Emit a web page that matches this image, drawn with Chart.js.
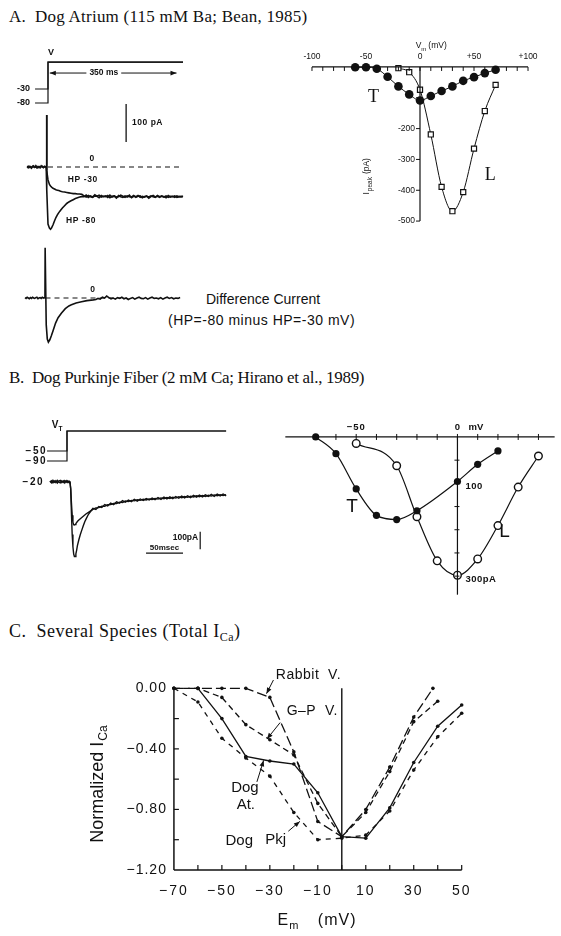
<!DOCTYPE html>
<html lang="en">
<head>
<meta charset="UTF-8">
<title>Ca currents - T and L types</title>
<script src="https://cdn.jsdelivr.net/npm/chart.js"></script>
<style>
  body { margin: 0; background: #fff; }
  #page { position: relative; width: 561px; height: 936px; overflow: hidden; background: #fff; }
  #page canvas { position: absolute; }
  .head { position: absolute; left: 9px; font-family: "Liberation Serif", "Times New Roman", serif; font-size: 17px; line-height: 20px; white-space: pre; color: #111; }
  .head sub { font-size: 12px; vertical-align: -4px; line-height: 0; }
  .note { position: absolute; font-family: "Liberation Sans", Arial, sans-serif; font-size: 14px; line-height: 16px; color: #111; white-space: pre; }
</style>
</head>
<body>
<div id="page">
  <div class="head" style="top:7px;letter-spacing:.24px">A.  Dog Atrium (115 mM Ba; Bean, 1985)</div>
  <div class="head" style="top:368px;letter-spacing:-.3px">B.  Dog Purkinje Fiber (2 mM Ca; Hirano et al., 1989)</div>
  <div class="head" style="top:621px;font-size:18px;letter-spacing:.5px">C.  Several Species (Total I<sub>Ca</sub>)</div>
  <div class="note" style="left:206px;top:291px">Difference Current</div>
  <div class="note" style="left:168px;top:312px;letter-spacing:.5px">(HP=-80 minus HP=-30 mV)</div>
  <canvas id="protoA"></canvas>
  <canvas id="curA"></canvas>
  <canvas id="difA"></canvas>
  <canvas id="ivA"></canvas>
  <canvas id="protoB"></canvas>
  <canvas id="curB"></canvas>
  <canvas id="ivB"></canvas>
  <canvas id="ivC"></canvas>
</div>
<script>
// ---------- A: dog atrium, 115 mM Ba ----------
// voltage protocol (ms, mV)
const protoA_t = [-36, 0, 0, 375]
const protoA_hp30 = [-30, -30, 66, 66]
const protoA_hp80 = [-80, -80, 66, 66]

// current records (ms, pA)
const traceA_t = [-58,-55,-52,-49,-46,-43,-40,-37,-34,-31,-28,-25,-22,-19,-16,-13,-10,-7,
  -5,-4,-3,
  0,4,7,10,14,18,22,26,30,35,40,46,52,58,64,70,76,82,88,94,
  100,106,112,118,124,130,136,142,148,154,160,166,172,178,184,190,196,202,208,214,
  220,226,232,238,244,250,256,262,268,274,280,286,292,298,304,310,316,322,328,334,
  340,346,352,358,364,370,375]
const hp80 = [1,-2,2,0,-3,1,3,-1,0,2,-2,1,-1,3,0,-2,2,0,
  0,137,-60,
  -150,-161,-164,-160,-152,-142,-133,-126,-120,-114,-108,-102,-96,-92,-89,-86,-83,-81,-79,-78,
  -78,-74,-80,-76,-79,-73,-77,-81,-75,-78,-76,-80,-74,-79,-77,-82,-75,-78,-80,-76,
  -79,-74,-81,-77,-78,-75,-80,-77,-79,-76,-82,-78,-75,-79,-77,-80,-76,-78,-81,-75,
  -79,-77,-80,-76,-78,-79,-77]
const hp30 = [0,2,-1,1,-2,2,0,-1,3,-2,0,1,-2,1,2,-1,0,1,
  0,137,-10,
  -34,-46,-50,-53,-56,-58,-60,-61,-62,-64,-65,-66,-67,-68,-69,-70,-70,-71,-71,-72,
  -76,-79,-75,-78,-80,-76,-77,-74,-79,-77,-78,-75,-81,-77,-76,-79,-78,-74,-77,-80,
  -76,-78,-79,-75,-80,-77,-76,-81,-78,-77,-79,-76,-78,-80,-75,-78,-77,-79,-76,-80,
  -77,-78,-76,-80,-78,-77,-78]
const zeroA_t = [0, 375]

const diffA_t = [-57,-54,-51,-48,-45,-42,-39,-36,-33,-30,-27,-24,-21,-18,-15,-12,-9,-6,-3,
  -1.5,-1,
  2,5,8,12,16,21,28,35,44,55,65,72,85,100,115,133,
  140,146,152,158,164,170,176,182,188,194,200,206,212,218,224,230,236,242,248,254,
  260,266,272,278,284,290,296,302,308,314,320,326,332,338,344,350,356,362,368,374]
const diffA = [1,-1,2,0,-2,1,-1,2,0,-1,1,2,-2,0,1,-1,2,0,1,
  0,132,
  -70,-108,-116,-110,-100,-86,-66,-52,-40,-28,-21,-18,-13,-10,-7,-5,
  -4,-1,-3,2,0,5,1,-2,0,-3,1,-1,2,-2,0,-4,-1,1,-3,0,
  2,-1,-2,1,-3,0,2,-1,0,-2,1,-3,0,2,-1,1,-2,0,-1,1]
const zeroD_t = [0, 210]

// peak I-V (mV, pA)
const ivA_mvT = [-60,-50,-40,-30,-20,-10,0,10,20,30,40,50,60,70]
const ivA_T = [-1,-1,-6,-32,-63,-89,-109,-94,-78,-63,-45,-33,-20,-9]
const ivA_mvL = [-20,-10,0,10,20,30,40,50,60,70]
const ivA_L = [-4,-17,-74,-219,-389,-468,-406,-265,-143,-58]
const ivA_xTicks = [-100, -50, 0, 50, 100]
const ivA_xLabels = ['-100', '-50', '0', '+50', '+100']
const ivA_yTicks = [-200, -300, -400, -500]

// ---------- B: dog Purkinje fiber, 2 mM Ca ----------
const protoB_t = [-27, 0, 0, 215]
const protoB_hp50 = [-50, -50, 30, 30]
const protoB_hp90 = [-90, -90, 30, 30]

const traceB_t = [-23,-21,-19,-17,-15,-13,-11,-9,-7,-5,-3,-1,1,3,4,
  5,6,7,8,9,10,11,12,13,14,16,18,20,22,24,26,29,32,
  35,39,43,47,51,55,59,63,67,71,75,79,83,87,91,95,99,103,107,111,
  115,119,123,127,131,135,139,143,147,151,155,159,163,167,171,175,179,183,187,191,
  195,199,203,207,211,215]
const fromHp90 = [4,-6,8,-3,6,-8,3,7,-5,5,-7,6,-4,3,0,
  -40,-180,-300,-370,-410,-425,-425,-410,-390,-365,-330,-300,-275,-250,-228,-210,-185,-168,
  -152,-158,-141,-146,-130,-138,-121,-130,-114,-122,-108,-117,-104,-113,-100,-110,-98,-107,-96,-104,
  -93,-102,-90,-100,-88,-98,-86,-96,-84,-94,-82,-92,-80,-90,-78,-88,-76,-86,-75,-84,
  -72,-83,-71,-81,-70,-80]
const fromHp50 = [-3,5,-7,4,-5,7,-2,-6,5,-4,6,-3,5,-6,0,
  -40,-120,-190,-230,-244,-246,-244,-238,-232,-226,-218,-210,-203,-196,-189,-182,-174,-166,
  -157,-149,-147,-139,-140,-131,-130,-124,-124,-116,-118,-110,-113,-106,-109,-103,-106,-100,-104,-98,
  -101,-95,-99,-92,-97,-90,-95,-88,-93,-86,-91,-84,-89,-82,-87,-80,-85,-78,-84,-77,
  -82,-75,-80,-74,-79,-73]

const ivB_mvT = [-70,-60,-50,-40,-30,-20,0,10,20]
const ivB_T = [0,-36,-112,-169,-178,-159,-96,-59,-30]
const ivB_mvL = [-50,-30,-20,-10,0,10,20,30,40]
const ivB_L = [-14,-62,-172,-267,-298,-263,-191,-108,-41]

// ---------- C: several species, normalized total ICa ----------
const rabbit_mV = [-70,-60,-50,-40,-30,-20,-10,0,10,20,30,38]
const rabbit = [0,0,0,0,-0.06,-0.42,-0.88,-0.98,-0.80,-0.52,-0.19,0.0]
const gp_mV = [-70,-60,-50,-40,-30,-20,-10,0,10,20,30,40]
const gp = [0,0,-0.06,-0.24,-0.34,-0.44,-0.76,-0.98,-0.82,-0.55,-0.22,-0.085]
const dogAt_mV = [-60,-50,-40,-30,-20,-10,0,10,20,30,40,50]
const dogAt = [0,-0.20,-0.45,-0.48,-0.50,-0.69,-0.98,-0.99,-0.79,-0.49,-0.25,-0.11]
const pkj_mV = [-70,-60,-50,-40,-30,-20,-10,0,10,20,30,40,50]
const pkj = [0,-0.09,-0.33,-0.46,-0.58,-0.82,-1.00,-0.99,-0.97,-0.81,-0.54,-0.32,-0.165]
const ivC_xTicks = [-70,-50,-30,-10,10,30,50]
const ivC_xLabels = ['\u221270','\u221250','\u221230','\u221210','10','30','50']
const ivC_yTicks = [0,-0.4,-0.8,-1.2]
const ivC_yLabels = ['0.00','\u22120.40','\u22120.80','\u22121.20']

const INK = '#111'
const SANS = '"Liberation Sans", Arial, sans-serif'
const SERIF = '"Liberation Serif", "Times New Roman", serif'

function pts(xs, ys) { return xs.map((x, i) => ({ x: x, y: ys[i] })) }

function pen(data, extra) {
  return Object.assign({
    data: data, showLine: true, fill: false, clip: false,
    borderColor: INK, backgroundColor: INK, borderWidth: 1.2,
    pointRadius: 0, pointHoverRadius: 0, tension: 0
  }, extra || {})
}

function seg(ctx, x1, y1, x2, y2, w, dash) {
  ctx.save()
  ctx.strokeStyle = INK; ctx.lineWidth = w || 1
  ctx.setLineDash(dash || [])
  ctx.beginPath(); ctx.moveTo(x1, y1); ctx.lineTo(x2, y2); ctx.stroke()
  ctx.restore()
}

function label(ctx, s, x, y, font, align, spacing) {
  ctx.save()
  ctx.fillStyle = INK; ctx.font = font
  ctx.textAlign = align || 'center'; ctx.textBaseline = 'middle'
  if (spacing) ctx.letterSpacing = spacing
  ctx.fillText(s, x, y)
  const w = ctx.measureText(s).width
  ctx.restore()
  return w
}

function arrow(ctx, x1, y1, x2, y2, w) {
  seg(ctx, x1, y1, x2, y2, w || 1)
  const a = Math.atan2(y2 - y1, x2 - x1), len = 6, half = 2.4
  ctx.save(); ctx.fillStyle = INK; ctx.beginPath()
  ctx.moveTo(x2, y2)
  ctx.lineTo(x2 - len * Math.cos(a) + half * Math.sin(a), y2 - len * Math.sin(a) - half * Math.cos(a))
  ctx.lineTo(x2 - len * Math.cos(a) - half * Math.sin(a), y2 - len * Math.sin(a) + half * Math.cos(a))
  ctx.closePath(); ctx.fill(); ctx.restore()
}

// box = [left, top, w, h] on the page, zero = page px of (0,0), per = px per unit
function makeChart(id, box, zero, per, sets, draw) {
  const cv = document.getElementById(id)
  cv.width = box[2]; cv.height = box[3]
  cv.style.left = box[0] + 'px'; cv.style.top = box[1] + 'px'
  return new Chart(cv, {
    type: 'scatter',
    data: { datasets: sets },
    options: {
      responsive: false, animation: false, events: [],
      layout: { padding: 0 },
      plugins: { legend: { display: false }, tooltip: { enabled: false } },
      scales: {
        x: { type: 'linear', display: false, min: (box[0] - zero[0]) / per[0], max: (box[0] + box[2] - zero[0]) / per[0] },
        y: { type: 'linear', display: false, min: (zero[1] - box[1] - box[3]) / per[1], max: (zero[1] - box[1]) / per[1] }
      }
    },
    plugins: [{
      id: 'ink_' + id,
      afterDatasetsDraw: (chart) => draw(chart, chart.ctx,
        v => chart.scales.x.getPixelForValue(v), v => chart.scales.y.getPixelForValue(v))
    }]
  })
}

// ---- A: protocol
makeChart('protoA', [0, 40, 200, 72], [48, 80.6], [0.36, 0.28], [
  pen(pts(protoA_t, protoA_hp30)),
  pen(pts(protoA_t, protoA_hp80))
], (c, ctx, X, Y) => {
  label(ctx, 'V', X(8), Y(protoA_hp30[2]) - 10, 'bold 9px ' + SANS)
  label(ctx, '-30', X(protoA_t[0]) - 5, Y(-30), 'bold 9px ' + SANS, 'right')
  label(ctx, '-80', X(protoA_t[0]) - 5, Y(-80), 'bold 9px ' + SANS, 'right')
  const ya = Y(27), xm = X(155)
  const w = label(ctx, '350 ms', xm, ya, 'bold 8.5px ' + SANS)
  arrow(ctx, xm - w / 2 - 3, ya, X(5), ya, 1)
  arrow(ctx, xm + w / 2 + 3, ya, X(357), ya, 1)
})

// ---- A: HP -30 / HP -80 records
makeChart('curA', [0, 100, 200, 140], [48, 167], [0.36, 0.38], [
  pen(pts(zeroA_t, [0, 0]), { borderDash: [5, 4], borderWidth: 1.1 }),
  pen(pts(traceA_t, hp80), { borderWidth: 1.6 }),
  pen(pts(traceA_t, hp30), { borderWidth: 1.6 })
], (c, ctx, X, Y) => {
  label(ctx, '0', X(122), Y(0) - 8, 'bold 8.5px ' + SANS)
  label(ctx, 'HP -30', X(55), Y(-34), 'bold 8.5px ' + SANS, 'left', '0.6px')
  label(ctx, 'HP -80', X(50), Y(-142), 'bold 8.5px ' + SANS, 'left', '0.6px')
  seg(ctx, X(217), Y(66), X(217), Y(166), 1.3)
  label(ctx, '100 pA', X(217) + 6, Y(116), 'bold 8.5px ' + SANS, 'left', '0.5px')
})

// ---- A: difference current
makeChart('difA', [0, 240, 200, 112], [45.5, 298], [0.36, 0.38], [
  pen(pts(zeroD_t, [0, 0]), { borderDash: [5, 4], borderWidth: 1.1 }),
  pen(pts(diffA_t, diffA), { borderWidth: 1.6 })
], (c, ctx, X, Y) => {
  label(ctx, '0', X(131), Y(0) - 8, 'bold 8.5px ' + SANS)
})

// ---- A: peak I-V
makeChart('ivA', [285, 30, 270, 210], [420, 63.7], [1.12, 0.323], [
  pen(pts(ivA_mvT, ivA_T), { pointRadius: 4.3, pointBorderWidth: 0, cubicInterpolationMode: 'monotone', borderWidth: 1 }),
  pen(pts(ivA_mvL, ivA_L), { pointStyle: 'rect', pointRadius: 3.6, pointBackgroundColor: '#fff', pointBorderColor: INK, pointBorderWidth: 1.2, cubicInterpolationMode: 'monotone', borderWidth: 1 })
], (c, ctx, X, Y) => {
  seg(ctx, X(-100), Y(0), X(100), Y(0), 1.2)
  for (let v = -100; v <= 100; v += 10) seg(ctx, X(v), Y(0), X(v), Y(0) + 4, 1)
  ivA_xTicks.forEach((v, i) => label(ctx, ivA_xLabels[i], X(v), Y(0) - 10, '8.5px ' + SANS))
  const w = label(ctx, 'V', X(-4), Y(0) - 21, '8.5px ' + SANS, 'left')
  label(ctx, 'm', X(-4) + w, Y(0) - 18, '6px ' + SANS, 'left')
  label(ctx, '(mV)', X(-4) + w + 7, Y(0) - 21, '8.5px ' + SANS, 'left')
  seg(ctx, X(0), Y(0), X(0), Y(-500), 1.2)
  for (let v = -100; v >= -500; v -= 100) seg(ctx, X(0) - 4, Y(v), X(0), Y(v), 1)
  ivA_yTicks.forEach(v => label(ctx, String(v), X(0) - 5, Y(v), '8.5px ' + SANS, 'right'))
  ctx.save(); ctx.translate(X(0) - 53, Y(-414)); ctx.rotate(-Math.PI / 2)
  const wi = label(ctx, 'I', 0, 0, '8.5px ' + SANS, 'left')
  const wp = label(ctx, 'peak', wi + 1, 3, '6.5px ' + SANS, 'left')
  label(ctx, '(pA)', wi + wp + 4, 0, '8.5px ' + SANS, 'left')
  ctx.restore()
  label(ctx, 'T', X(-43), Y(-97), '18px ' + SERIF)
  label(ctx, 'L', X(65), Y(-352), '18px ' + SERIF)
})

// ---- B: protocol
makeChart('protoB', [0, 415, 240, 55], [67, 438.5], [0.74, 0.25], [
  pen(pts(protoB_t, protoB_hp50)),
  pen(pts(protoB_t, protoB_hp90))
], (c, ctx, X, Y) => {
  const w = label(ctx, 'V', X(-20.5), Y(protoB_hp50[2]) - 6, 'bold 10px ' + SANS, 'left')
  label(ctx, 'T', X(-20.5) + w, Y(protoB_hp50[2]) - 2, 'bold 6.5px ' + SANS, 'left')
  label(ctx, '\u221250', X(protoB_t[0]), Y(-50), 'bold 10px ' + SANS, 'right', '1.5px')
  label(ctx, '\u221290', X(protoB_t[0]), Y(-90), 'bold 10px ' + SANS, 'right', '1.5px')
})

// ---- B: records
makeChart('curB', [0, 470, 240, 100], [67, 481.7], [0.74, 0.176], [
  pen(pts(traceB_t, fromHp90), { borderWidth: 1.4 }),
  pen(pts(traceB_t, fromHp50), { borderWidth: 1.4 })
], (c, ctx, X, Y) => {
  label(ctx, '\u221220', X(-31), Y(0) + 1, 'bold 10px ' + SANS, 'right', '1.5px')
  seg(ctx, X(180), Y(-284), X(180), Y(-384), 1.2)
  label(ctx, '100pA', X(180) - 2, Y(-318), 'bold 8.5px ' + SANS, 'right')
  label(ctx, '50msec', X(131.8), Y(-375), 'bold 8px ' + SANS)
  seg(ctx, X(106.8), Y(-406), X(156.8), Y(-406), 1.2)
})

// ---- B: peak I-V
makeChart('ivB', [270, 410, 291, 195], [459, 433], [2.1, 0.49], [
  pen(pts(ivB_mvT, ivB_T), { pointRadius: 3.6, pointBorderWidth: 0, cubicInterpolationMode: 'monotone', borderWidth: 1.2 }),
  pen(pts(ivB_mvL, ivB_L), { pointRadius: 3.8, pointBackgroundColor: '#fff', pointBorderColor: INK, pointBorderWidth: 1.4, cubicInterpolationMode: 'monotone', borderWidth: 1.2 })
], (c, ctx, X, Y) => {
  seg(ctx, X(-85), Y(0), X(48), Y(0), 1.2)
  for (let v = -70; v <= 40; v += 10) seg(ctx, X(v), Y(0) - 3, X(v), Y(0) + 3, 1)
  label(ctx, '\u221250', X(-50), Y(0) - 10, 'bold 9.5px ' + SANS, 'center', '1px')
  label(ctx, '0', X(0), Y(0) - 10, 'bold 9.5px ' + SANS)
  label(ctx, 'mV', X(0) + 11, Y(0) - 10, 'bold 9.5px ' + SANS, 'left')
  seg(ctx, X(0), Y(0), X(0), Y(-340), 1.2)
  for (let v = -50; v >= -300; v -= 50) seg(ctx, X(0) - 3, Y(v), X(0) + 2, Y(v), 1)
  label(ctx, '100', X(0) + 8, Y(-106), 'bold 9.5px ' + SANS, 'left', '0.5px')
  label(ctx, '300pA', X(0) + 8, Y(-306), 'bold 9.5px ' + SANS, 'left', '0.5px')
  label(ctx, 'T', X(-52), Y(-150), '19px ' + SANS)
  label(ctx, 'L', X(23.3), Y(-204), '19px ' + SANS)
})

// ---- C: normalized I-V, four preparations
const dot = { pointRadius: 1.8, pointBorderWidth: 0, borderWidth: 1.3 }
makeChart('ivC', [60, 650, 460, 286], [342.2, 687], [2.417, 153.3], [
  pen(pts(dogAt_mV, dogAt), dot),
  pen(pts(rabbit_mV, rabbit), Object.assign({ borderDash: [10, 4] }, dot)),
  pen(pts(gp_mV, gp), Object.assign({ borderDash: [6, 4] }, dot)),
  pen(pts(pkj_mV, pkj), Object.assign({ borderDash: [5, 5] }, dot))
], (c, ctx, X, Y) => {
  const x0 = X(-70), yb = Y(-1.2)
  seg(ctx, x0, Y(0), x0, yb, 1.5)
  seg(ctx, x0, yb, X(50), yb, 1.5)
  seg(ctx, X(0), Y(0), X(0), yb, 1.4)
  for (let v = -60; v <= 50; v += 10) seg(ctx, X(v), yb, X(v), yb - 5, 1.2)
  for (let k = 1; k <= 5; k++) seg(ctx, x0, Y(-0.2 * k), x0 + 5, Y(-0.2 * k), 1.2)
  ivC_xTicks.forEach((v, i) => label(ctx, ivC_xLabels[i], X(v), yb + 21, '14px ' + SANS, 'center', '2px'))
  ivC_yTicks.forEach((v, i) => label(ctx, ivC_yLabels[i], x0 - 7, Y(v), '14px ' + SANS, 'right', '1px'))
  // axis titles
  ctx.save(); ctx.translate(x0 - 76, Y(-1.02)); ctx.rotate(-Math.PI / 2)
  const wn = label(ctx, 'Normalized I', 0, 0, '18px ' + SANS, 'left')
  label(ctx, 'Ca', wn + 1, 6, '12px ' + SANS, 'left')
  ctx.restore()
  const ey = yb + 51
  const we = label(ctx, 'E', X(-26.8), ey, '16px ' + SANS, 'left')
  label(ctx, 'm', X(-26.8) + we + 1, ey + 5, '11px ' + SANS, 'left')
  label(ctx, '(mV)', X(-10), ey, '16px ' + SANS, 'left', '1px')
  // curve names
  const f = '14px ' + SANS
  label(ctx, 'Rabbit  V.', X(-27.5), Y(0.09), f, 'left', '0.5px')
  arrow(ctx, X(-28.5), Y(0.055), X(-31.4), Y(-0.035))
  label(ctx, 'G\u2013P  V.', X(-23), Y(-0.15), f, 'left', '0.5px')
  arrow(ctx, X(-25.7), Y(-0.226), X(-31.2), Y(-0.335))
  label(ctx, 'Dog', X(-40.4), Y(-0.659), '15px ' + SANS)
  label(ctx, 'At.', X(-40), Y(-0.77), '15px ' + SANS)
  arrow(ctx, X(-35.4), Y(-0.618), X(-32.6), Y(-0.476))
  label(ctx, 'Dog', X(-48.5), Y(-1.005), '15px ' + SANS, 'left')
  label(ctx, 'Pkj', X(-31.9), Y(-1.0), '15px ' + SANS, 'left')
  arrow(ctx, X(-22.3), Y(-0.944), X(-17.5), Y(-0.879))
})
</script>
</body>
</html>
